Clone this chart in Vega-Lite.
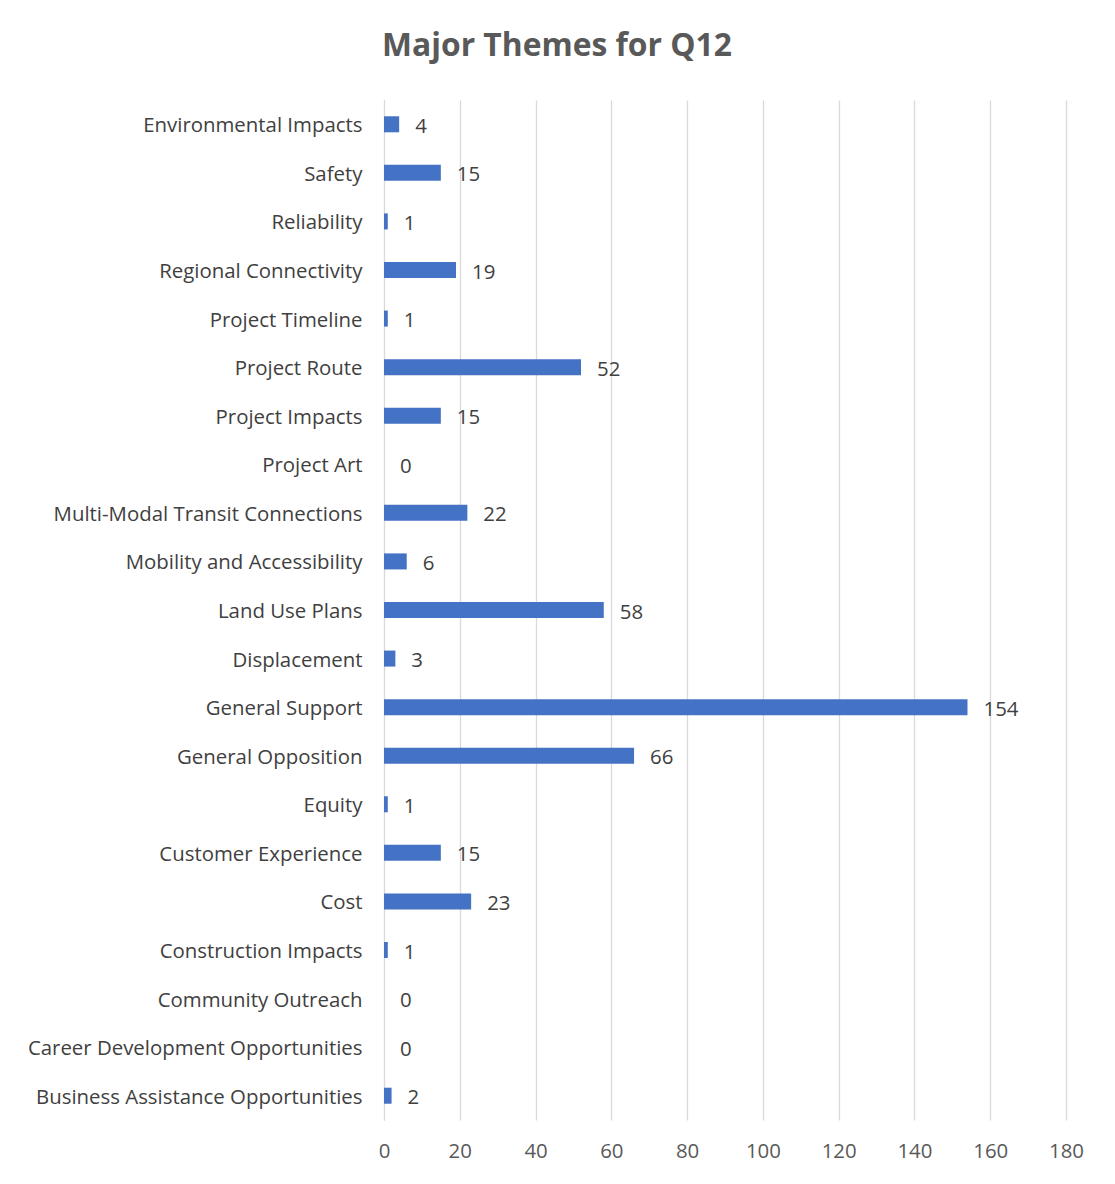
{
  "$schema": "https://vega.github.io/schema/vega-lite/v6.json",
  "width": 682,
  "height": 1020,
  "autosize": {"type": "none"},
  "padding": {"left": 384, "top": 100, "right": 49, "bottom": 64},
  "background": "white",
  "title": {
    "text": "Major Themes for Q12",
    "font": "Open Sans",
    "fontSize": 31.8,
    "fontWeight": "bold",
    "color": "#595959",
    "anchor": "middle",
    "dx": -168,
    "offset": 37
  },
  "data": {
    "values": [
      {"theme": "Environmental Impacts", "count": 4},
      {"theme": "Safety", "count": 15},
      {"theme": "Reliability", "count": 1},
      {"theme": "Regional Connectivity", "count": 19},
      {"theme": "Project Timeline", "count": 1},
      {"theme": "Project Route", "count": 52},
      {"theme": "Project Impacts", "count": 15},
      {"theme": "Project Art", "count": 0},
      {"theme": "Multi-Modal Transit Connections", "count": 22},
      {"theme": "Mobility and Accessibility", "count": 6},
      {"theme": "Land Use Plans", "count": 58},
      {"theme": "Displacement", "count": 3},
      {"theme": "General Support", "count": 154},
      {"theme": "General Opposition", "count": 66},
      {"theme": "Equity", "count": 1},
      {"theme": "Customer Experience", "count": 15},
      {"theme": "Cost", "count": 23},
      {"theme": "Construction Impacts", "count": 1},
      {"theme": "Community Outreach", "count": 0},
      {"theme": "Career Development Opportunities", "count": 0},
      {"theme": "Business Assistance Opportunities", "count": 2}
    ]
  },
  "encoding": {
    "y": {
      "field": "theme",
      "type": "nominal",
      "sort": null,
      "scale": {"paddingInner": 0, "paddingOuter": 0},
      "axis": {
        "title": null,
        "ticks": false,
        "domain": true,
        "domainColor": "#D9D9D9",
        "labelFont": "Open Sans",
        "labelFontSize": 20.4,
        "labelColor": "#404040",
        "labelPadding": 22,
        "labelOffset": 2,
        "labelLimit": 400
      }
    },
    "x": {
      "field": "count",
      "type": "quantitative",
      "scale": {"domain": [0, 180], "nice": false},
      "axis": {
        "title": null,
        "values": [0, 20, 40, 60, 80, 100, 120, 140, 160, 180],
        "ticks": false,
        "domain": false,
        "grid": true,
        "gridColor": "#D9D9D9",
        "gridWidth": 1.3,
        "labelFlush": false,
        "labelFont": "Open Sans",
        "labelFontSize": 20.4,
        "labelColor": "#595959",
        "labelPadding": 21
      }
    }
  },
  "layer": [
    {
      "mark": {"type": "bar", "color": "#4472C4", "height": {"band": 0.33}}
    },
    {
      "mark": {"type": "text", "align": "left", "dx": 16, "font": "Open Sans", "fontSize": 20.4, "color": "#404040", "baseline": "middle", "dy": 2.5},
      "encoding": {"text": {"field": "count", "type": "quantitative"}}
    }
  ],
  "config": {"view": {"stroke": null}}
}
